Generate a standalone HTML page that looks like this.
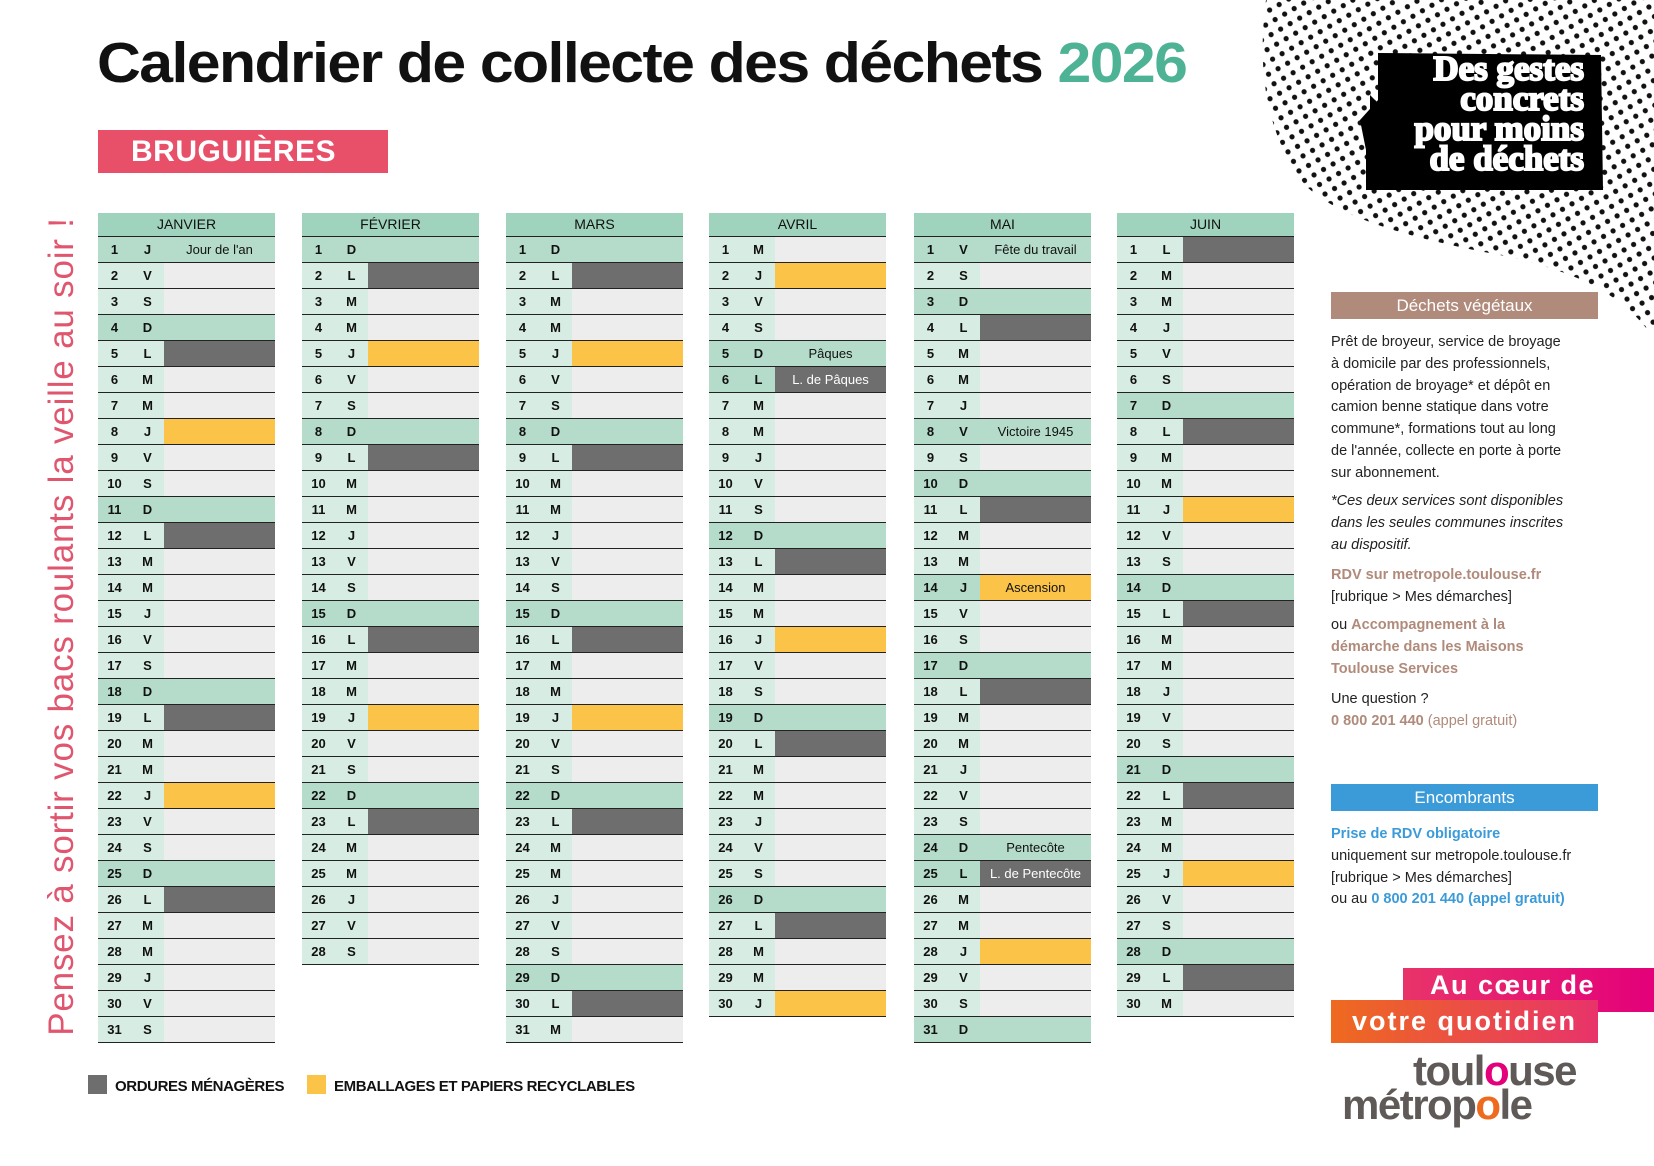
<!DOCTYPE html>
<html><head><meta charset="utf-8">
<style>
*{margin:0;padding:0;box-sizing:border-box}
body{width:1654px;height:1166px;background:#fff;position:relative;overflow:hidden;font-family:"Liberation Sans",sans-serif;color:#111}
.title{position:absolute;left:97px;top:30px;font-size:57px;font-weight:bold;letter-spacing:-1.5px;white-space:nowrap;transform-origin:0 0;transform:scaleX(1.066)}
.title span{color:#4db394}
.town{position:absolute;left:98px;top:130px;width:290px;height:43px;background:#e8506a;color:#fff;font-weight:bold;font-size:30px;line-height:43px;padding-left:33px;letter-spacing:0.5px}
.vert{position:absolute;left:42px;top:1042px;width:831px;height:40px;transform-origin:0 0;transform:rotate(-90deg);color:#e0566f;font-size:35px;line-height:40px;white-space:nowrap;text-align:center;letter-spacing:0.8px}
.m{position:absolute;top:213px;width:177px}
.h{height:24px;background:#9fd3bd;border-bottom:1.5px solid #222;text-align:center;font-size:14px;line-height:23px}
.r{height:26px;display:flex;border-bottom:1.5px solid #222;font-size:13px;line-height:25px}
.r b{width:33px;text-align:center;background:#d7ede3}
.r i{flex:1;background:#ededed;font-style:normal;text-align:center;font-size:13px}
.s b,.s i{background:#b5dcca}
.hl b{background:#b5dcca}
.g i{background:#6e6e6e;color:#fff}
.y i{background:#fbc347}
.leg{position:absolute;top:1075px;height:23px;font-size:15px;font-weight:bold;line-height:23px;white-space:nowrap}
.sq{position:absolute;top:1075px;width:19px;height:19px}
.side{position:absolute;left:1331px;width:290px;font-size:14.5px;line-height:21.8px;color:#222;white-space:nowrap}
.bar{position:absolute;left:1331px;width:267px;height:27px;color:#fff;text-align:center;font-size:17px;line-height:27px}
.br{color:#b08a7a;font-weight:bold}
.bl{color:#3b9bd8;font-weight:bold}
</style></head><body>

<svg style="position:absolute;left:0;top:0" width="1654" height="400">
<defs>
<pattern id="dots" width="11" height="11" patternUnits="userSpaceOnUse" patternTransform="rotate(-30)">
<circle cx="5.5" cy="5.5" r="2.6" fill="#111"/>
</pattern>
<clipPath id="cp"><path d="M1266,0 C1258,60 1262,130 1305,185 C1340,220 1420,240 1500,255 C1570,270 1620,290 1654,338 L1654,0 Z"/></clipPath>
</defs>
<rect x="1250" y="0" width="404" height="340" fill="url(#dots)" clip-path="url(#cp)"/>
<polygon points="1378,53 1601,55 1603,190 1366,190 1366,150 1360,120 1378,100" fill="#000"/>
<polygon points="1370,95 1395,120 1370,125" fill="#000"/>
<g font-family="Liberation Serif,serif" font-weight="bold" font-size="35" fill="#fff" text-anchor="end" stroke="#fff" stroke-width="2">
<text x="1584" y="80">Des gestes</text>
<text x="1584" y="110">concrets</text>
<text x="1584" y="140">pour moins</text>
<text x="1584" y="170">de déchets</text>
</g>
</svg>

<div class="title">Calendrier de collecte des déchets <span>2026</span></div>
<div class="town">BRUGUIÈRES</div>
<div class="vert">Pensez à sortir vos bacs roulants la veille au soir !</div>

<div class="m" style="left:98px"><div class="h">JANVIER</div>
<div class="r s"><b>1</b><b>J</b><i>Jour de l'an</i></div>
<div class="r"><b>2</b><b>V</b><i></i></div>
<div class="r"><b>3</b><b>S</b><i></i></div>
<div class="r s"><b>4</b><b>D</b><i></i></div>
<div class="r g"><b>5</b><b>L</b><i></i></div>
<div class="r"><b>6</b><b>M</b><i></i></div>
<div class="r"><b>7</b><b>M</b><i></i></div>
<div class="r y"><b>8</b><b>J</b><i></i></div>
<div class="r"><b>9</b><b>V</b><i></i></div>
<div class="r"><b>10</b><b>S</b><i></i></div>
<div class="r s"><b>11</b><b>D</b><i></i></div>
<div class="r g"><b>12</b><b>L</b><i></i></div>
<div class="r"><b>13</b><b>M</b><i></i></div>
<div class="r"><b>14</b><b>M</b><i></i></div>
<div class="r"><b>15</b><b>J</b><i></i></div>
<div class="r"><b>16</b><b>V</b><i></i></div>
<div class="r"><b>17</b><b>S</b><i></i></div>
<div class="r s"><b>18</b><b>D</b><i></i></div>
<div class="r g"><b>19</b><b>L</b><i></i></div>
<div class="r"><b>20</b><b>M</b><i></i></div>
<div class="r"><b>21</b><b>M</b><i></i></div>
<div class="r y"><b>22</b><b>J</b><i></i></div>
<div class="r"><b>23</b><b>V</b><i></i></div>
<div class="r"><b>24</b><b>S</b><i></i></div>
<div class="r s"><b>25</b><b>D</b><i></i></div>
<div class="r g"><b>26</b><b>L</b><i></i></div>
<div class="r"><b>27</b><b>M</b><i></i></div>
<div class="r"><b>28</b><b>M</b><i></i></div>
<div class="r"><b>29</b><b>J</b><i></i></div>
<div class="r"><b>30</b><b>V</b><i></i></div>
<div class="r"><b>31</b><b>S</b><i></i></div>
</div>

<div class="m" style="left:302px"><div class="h">FÉVRIER</div>
<div class="r s"><b>1</b><b>D</b><i></i></div>
<div class="r g"><b>2</b><b>L</b><i></i></div>
<div class="r"><b>3</b><b>M</b><i></i></div>
<div class="r"><b>4</b><b>M</b><i></i></div>
<div class="r y"><b>5</b><b>J</b><i></i></div>
<div class="r"><b>6</b><b>V</b><i></i></div>
<div class="r"><b>7</b><b>S</b><i></i></div>
<div class="r s"><b>8</b><b>D</b><i></i></div>
<div class="r g"><b>9</b><b>L</b><i></i></div>
<div class="r"><b>10</b><b>M</b><i></i></div>
<div class="r"><b>11</b><b>M</b><i></i></div>
<div class="r"><b>12</b><b>J</b><i></i></div>
<div class="r"><b>13</b><b>V</b><i></i></div>
<div class="r"><b>14</b><b>S</b><i></i></div>
<div class="r s"><b>15</b><b>D</b><i></i></div>
<div class="r g"><b>16</b><b>L</b><i></i></div>
<div class="r"><b>17</b><b>M</b><i></i></div>
<div class="r"><b>18</b><b>M</b><i></i></div>
<div class="r y"><b>19</b><b>J</b><i></i></div>
<div class="r"><b>20</b><b>V</b><i></i></div>
<div class="r"><b>21</b><b>S</b><i></i></div>
<div class="r s"><b>22</b><b>D</b><i></i></div>
<div class="r g"><b>23</b><b>L</b><i></i></div>
<div class="r"><b>24</b><b>M</b><i></i></div>
<div class="r"><b>25</b><b>M</b><i></i></div>
<div class="r"><b>26</b><b>J</b><i></i></div>
<div class="r"><b>27</b><b>V</b><i></i></div>
<div class="r"><b>28</b><b>S</b><i></i></div>
</div>

<div class="m" style="left:506px"><div class="h">MARS</div>
<div class="r s"><b>1</b><b>D</b><i></i></div>
<div class="r g"><b>2</b><b>L</b><i></i></div>
<div class="r"><b>3</b><b>M</b><i></i></div>
<div class="r"><b>4</b><b>M</b><i></i></div>
<div class="r y"><b>5</b><b>J</b><i></i></div>
<div class="r"><b>6</b><b>V</b><i></i></div>
<div class="r"><b>7</b><b>S</b><i></i></div>
<div class="r s"><b>8</b><b>D</b><i></i></div>
<div class="r g"><b>9</b><b>L</b><i></i></div>
<div class="r"><b>10</b><b>M</b><i></i></div>
<div class="r"><b>11</b><b>M</b><i></i></div>
<div class="r"><b>12</b><b>J</b><i></i></div>
<div class="r"><b>13</b><b>V</b><i></i></div>
<div class="r"><b>14</b><b>S</b><i></i></div>
<div class="r s"><b>15</b><b>D</b><i></i></div>
<div class="r g"><b>16</b><b>L</b><i></i></div>
<div class="r"><b>17</b><b>M</b><i></i></div>
<div class="r"><b>18</b><b>M</b><i></i></div>
<div class="r y"><b>19</b><b>J</b><i></i></div>
<div class="r"><b>20</b><b>V</b><i></i></div>
<div class="r"><b>21</b><b>S</b><i></i></div>
<div class="r s"><b>22</b><b>D</b><i></i></div>
<div class="r g"><b>23</b><b>L</b><i></i></div>
<div class="r"><b>24</b><b>M</b><i></i></div>
<div class="r"><b>25</b><b>M</b><i></i></div>
<div class="r"><b>26</b><b>J</b><i></i></div>
<div class="r"><b>27</b><b>V</b><i></i></div>
<div class="r"><b>28</b><b>S</b><i></i></div>
<div class="r s"><b>29</b><b>D</b><i></i></div>
<div class="r g"><b>30</b><b>L</b><i></i></div>
<div class="r"><b>31</b><b>M</b><i></i></div>
</div>

<div class="m" style="left:709px"><div class="h">AVRIL</div>
<div class="r"><b>1</b><b>M</b><i></i></div>
<div class="r y"><b>2</b><b>J</b><i></i></div>
<div class="r"><b>3</b><b>V</b><i></i></div>
<div class="r"><b>4</b><b>S</b><i></i></div>
<div class="r s"><b>5</b><b>D</b><i>Pâques</i></div>
<div class="r g hl"><b>6</b><b>L</b><i>L. de Pâques</i></div>
<div class="r"><b>7</b><b>M</b><i></i></div>
<div class="r"><b>8</b><b>M</b><i></i></div>
<div class="r"><b>9</b><b>J</b><i></i></div>
<div class="r"><b>10</b><b>V</b><i></i></div>
<div class="r"><b>11</b><b>S</b><i></i></div>
<div class="r s"><b>12</b><b>D</b><i></i></div>
<div class="r g"><b>13</b><b>L</b><i></i></div>
<div class="r"><b>14</b><b>M</b><i></i></div>
<div class="r"><b>15</b><b>M</b><i></i></div>
<div class="r y"><b>16</b><b>J</b><i></i></div>
<div class="r"><b>17</b><b>V</b><i></i></div>
<div class="r"><b>18</b><b>S</b><i></i></div>
<div class="r s"><b>19</b><b>D</b><i></i></div>
<div class="r g"><b>20</b><b>L</b><i></i></div>
<div class="r"><b>21</b><b>M</b><i></i></div>
<div class="r"><b>22</b><b>M</b><i></i></div>
<div class="r"><b>23</b><b>J</b><i></i></div>
<div class="r"><b>24</b><b>V</b><i></i></div>
<div class="r"><b>25</b><b>S</b><i></i></div>
<div class="r s"><b>26</b><b>D</b><i></i></div>
<div class="r g"><b>27</b><b>L</b><i></i></div>
<div class="r"><b>28</b><b>M</b><i></i></div>
<div class="r"><b>29</b><b>M</b><i></i></div>
<div class="r y"><b>30</b><b>J</b><i></i></div>
</div>

<div class="m" style="left:914px"><div class="h">MAI</div>
<div class="r s"><b>1</b><b>V</b><i>Fête du travail</i></div>
<div class="r"><b>2</b><b>S</b><i></i></div>
<div class="r s"><b>3</b><b>D</b><i></i></div>
<div class="r g"><b>4</b><b>L</b><i></i></div>
<div class="r"><b>5</b><b>M</b><i></i></div>
<div class="r"><b>6</b><b>M</b><i></i></div>
<div class="r"><b>7</b><b>J</b><i></i></div>
<div class="r s"><b>8</b><b>V</b><i>Victoire 1945</i></div>
<div class="r"><b>9</b><b>S</b><i></i></div>
<div class="r s"><b>10</b><b>D</b><i></i></div>
<div class="r g"><b>11</b><b>L</b><i></i></div>
<div class="r"><b>12</b><b>M</b><i></i></div>
<div class="r"><b>13</b><b>M</b><i></i></div>
<div class="r y hl"><b>14</b><b>J</b><i>Ascension</i></div>
<div class="r"><b>15</b><b>V</b><i></i></div>
<div class="r"><b>16</b><b>S</b><i></i></div>
<div class="r s"><b>17</b><b>D</b><i></i></div>
<div class="r g"><b>18</b><b>L</b><i></i></div>
<div class="r"><b>19</b><b>M</b><i></i></div>
<div class="r"><b>20</b><b>M</b><i></i></div>
<div class="r"><b>21</b><b>J</b><i></i></div>
<div class="r"><b>22</b><b>V</b><i></i></div>
<div class="r"><b>23</b><b>S</b><i></i></div>
<div class="r s"><b>24</b><b>D</b><i>Pentecôte</i></div>
<div class="r g hl"><b>25</b><b>L</b><i>L. de Pentecôte</i></div>
<div class="r"><b>26</b><b>M</b><i></i></div>
<div class="r"><b>27</b><b>M</b><i></i></div>
<div class="r y"><b>28</b><b>J</b><i></i></div>
<div class="r"><b>29</b><b>V</b><i></i></div>
<div class="r"><b>30</b><b>S</b><i></i></div>
<div class="r s"><b>31</b><b>D</b><i></i></div>
</div>

<div class="m" style="left:1117px"><div class="h">JUIN</div>
<div class="r g"><b>1</b><b>L</b><i></i></div>
<div class="r"><b>2</b><b>M</b><i></i></div>
<div class="r"><b>3</b><b>M</b><i></i></div>
<div class="r"><b>4</b><b>J</b><i></i></div>
<div class="r"><b>5</b><b>V</b><i></i></div>
<div class="r"><b>6</b><b>S</b><i></i></div>
<div class="r s"><b>7</b><b>D</b><i></i></div>
<div class="r g"><b>8</b><b>L</b><i></i></div>
<div class="r"><b>9</b><b>M</b><i></i></div>
<div class="r"><b>10</b><b>M</b><i></i></div>
<div class="r y"><b>11</b><b>J</b><i></i></div>
<div class="r"><b>12</b><b>V</b><i></i></div>
<div class="r"><b>13</b><b>S</b><i></i></div>
<div class="r s"><b>14</b><b>D</b><i></i></div>
<div class="r g"><b>15</b><b>L</b><i></i></div>
<div class="r"><b>16</b><b>M</b><i></i></div>
<div class="r"><b>17</b><b>M</b><i></i></div>
<div class="r"><b>18</b><b>J</b><i></i></div>
<div class="r"><b>19</b><b>V</b><i></i></div>
<div class="r"><b>20</b><b>S</b><i></i></div>
<div class="r s"><b>21</b><b>D</b><i></i></div>
<div class="r g"><b>22</b><b>L</b><i></i></div>
<div class="r"><b>23</b><b>M</b><i></i></div>
<div class="r"><b>24</b><b>M</b><i></i></div>
<div class="r y"><b>25</b><b>J</b><i></i></div>
<div class="r"><b>26</b><b>V</b><i></i></div>
<div class="r"><b>27</b><b>S</b><i></i></div>
<div class="r s"><b>28</b><b>D</b><i></i></div>
<div class="r g"><b>29</b><b>L</b><i></i></div>
<div class="r"><b>30</b><b>M</b><i></i></div>
</div>

<div class="sq" style="left:88px;background:#6e6e6e"></div>
<div class="leg" style="left:115px;letter-spacing:-0.4px">ORDURES MÉNAGÈRES</div>
<div class="sq" style="left:307px;background:#fbc347"></div>
<div class="leg" style="left:334px;letter-spacing:-0.4px">EMBALLAGES ET PAPIERS RECYCLABLES</div>

<div class="bar" style="top:292px;background:#b08a7a">Déchets végétaux</div>
<div class="side" style="top:332px">Prêt de broyeur, service de broyage<br>à domicile par des professionnels,<br>opération de broyage* et dépôt en<br>camion benne statique dans votre<br>commune*, formations tout au long<br>de l'année, collecte en porte à porte<br>sur abonnement.</div>
<div class="side" style="top:491px;font-style:italic">*Ces deux services sont disponibles<br>dans les seules communes inscrites<br>au dispositif.</div>
<div class="side" style="top:565px"><span class="br">RDV sur metropole.toulouse.fr</span><br>[rubrique &gt; Mes démarches]</div>
<div class="side" style="top:615px">ou <span class="br">Accompagnement à la<br>démarche dans les Maisons<br>Toulouse Services</span></div>
<div class="side" style="top:689px">Une question ?<br><span class="br">0 800 201 440</span> <span style="color:#b08a7a">(appel gratuit)</span></div>

<div class="bar" style="top:784px;background:#3b9bd8">Encombrants</div>
<div class="side" style="top:824px;font-size:14.5px"><span class="bl">Prise de RDV obligatoire</span><br>uniquement sur metropole.toulouse.fr<br>[rubrique &gt; Mes démarches]<br>ou au <span class="bl">0 800 201 440 (appel gratuit)</span></div>

<div style="position:absolute;left:1403px;top:968px;width:251px;height:44px;background:linear-gradient(90deg,#e8336a,#e4007a)"></div>
<div style="position:absolute;left:1331px;top:1000px;width:267px;height:43px;background:linear-gradient(90deg,#ee6a1f,#e8336a)"></div>
<div style="position:absolute;left:1405px;top:968px;width:190px;height:34px;color:#fff;font-weight:bold;font-size:27px;line-height:34px;text-align:right;letter-spacing:1.5px">Au cœur de</div>
<div style="position:absolute;left:1331px;top:1004px;width:267px;height:34px;color:#fff;font-weight:bold;font-size:27px;line-height:34px;text-align:center;letter-spacing:2px">votre quotidien</div>

<div style="position:absolute;left:1413px;top:1050px;font-size:42px;font-weight:bold;color:#5f5a58;letter-spacing:-1.5px;line-height:42px">toul<span style="color:#e4007a">o</span>use</div>
<div style="position:absolute;left:1342px;top:1084px;font-size:42px;font-weight:bold;color:#5f5a58;letter-spacing:-1.5px;line-height:42px">métrop<span style="color:#ee6a1f">o</span>le</div>

</body></html>
